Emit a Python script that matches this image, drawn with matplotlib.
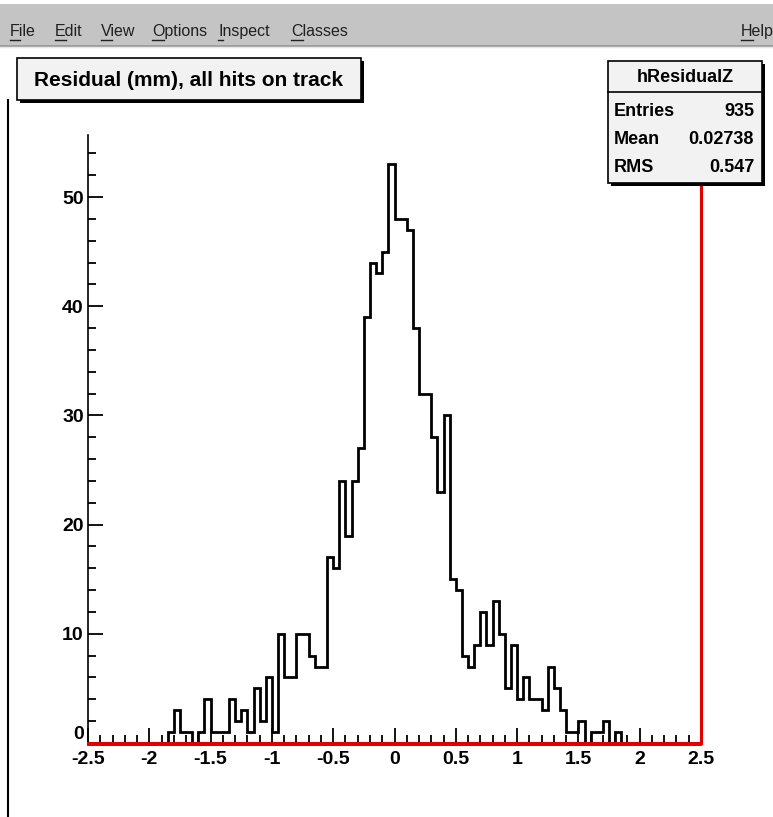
import matplotlib
matplotlib.use("Agg")
import matplotlib.pyplot as plt
from matplotlib.patches import Rectangle
from matplotlib.lines import Line2D
from matplotlib.font_manager import fontManager
from matplotlib import transforms

# ---- histogram contents: 100 bins of 0.05 mm in [-2.5, 2.5) ----
x_lo, x_hi, n_bins = -2.5, 2.5, 100
counts = ([0] * 13 +
          [1, 3, 1, 1, 0, 1, 4, 1, 1, 1, 4, 2, 3, 1, 5, 2, 6, 1, 10, 6, 6, 10, 10, 8, 7, 7,
           17, 16, 24, 19, 24, 27, 39, 44, 43, 45, 53, 48, 48, 47, 38, 32, 32, 28, 23, 30,
           15, 14, 8, 7, 9, 12, 9, 13, 10, 5, 9, 4, 6, 4, 4, 3, 7, 5, 3, 1, 1, 2, 0, 1, 1, 2, 0, 1] +
          [0] * 13)
edges = [x_lo + i * (x_hi - x_lo) / n_bins for i in range(n_bins + 1)]

title_text = "Residual (mm), all hits on track"
hist_name = "hResidualZ"
stat_labels = ["Entries", "Mean", "RMS"]
stat_values = ["935", "0.02738", "0.547"]
x_ticks = [-2.5, -2, -1.5, -1, -0.5, 0, 0.5, 1, 1.5, 2, 2.5]
x_tick_labels = ["-2.5", "-2", "-1.5", "-1", "-0.5", "0", "0.5", "1", "1.5", "2", "2.5"]
y_ticks = [0, 10, 20, 30, 40, 50]
menu_items = ["File", "Edit", "View", "Options", "Inspect", "Classes"]
menu_x = [10, 55, 101, 152, 218, 291]

W, H = 773, 817
names = {f.name for f in fontManager.ttflist}
NARROW = "Liberation Sans Narrow" if "Liberation Sans Narrow" in names else "Liberation Sans"
FAM = [NARROW, "DejaVu Sans"]

fig = plt.figure(figsize=(W / 100, H / 100), dpi=100)
fig.patch.set_facecolor("white")


def fx(x):
    return x / W


def fy(y):
    return 1 - y / H


def prect(x0, y0, x1, y1, **kw):
    r = Rectangle((fx(x0), fy(y1)), (x1 - x0) / W, (y1 - y0) / H,
                  transform=fig.transFigure, **kw)
    fig.add_artist(r)
    return r


def pline(xs, ys, **kw):
    fig.add_artist(Line2D([fx(v) for v in xs], [fy(v) for v in ys],
                          transform=fig.transFigure, **kw))


def ptext(x, y, s, **kw):
    kw.setdefault("family", FAM)
    return fig.text(fx(x), fy(y), s, **kw)


# ---- menu bar ----
prect(0, 4, W, 45, facecolor="#c4c4c4", edgecolor="none", zorder=1)
pline([0, W], [45.5, 45.5], color="#8a8a8a", lw=1.2, zorder=2)
pline([0, W], [47, 47], color="#e8e8e8", lw=1.0, zorder=2)

renderer = fig.canvas.get_renderer()
menu_fs = 11.5


def menu_entry(x, label):
    t = ptext(x, 36, label, fontsize=menu_fs, va="baseline", ha="left", color="#202020", zorder=3)
    first = ptext(x, 36, label[0], fontsize=menu_fs, va="baseline", ha="left", alpha=0)
    bb = first.get_window_extent(renderer)
    pline([x, x + bb.width], [39.5, 39.5], color="#202020", lw=1.0, zorder=3)
    return t


for lab, x in zip(menu_items, menu_x):
    menu_entry(x, lab)
menu_entry(741, "Help")

# left edge of the canvas
pline([8, 8], [100, H], color="black", lw=1.5, zorder=2)

# ---- main frame ----
ax_l, ax_r, ax_b = 88, 701, 743
y_max = 53 * 1.05
px_per_unit = 10.92
ax_t = ax_b - y_max * px_per_unit
ax = fig.add_axes([fx(ax_l), fy(ax_b), (ax_r - ax_l) / W, (ax_b - ax_t) / H])
ax.set_xlim(x_lo, x_hi)
ax.set_ylim(0, y_max)
ax.set_facecolor("none")

ax.stairs(counts, edges, color="black", lw=2.0, baseline=0, zorder=3)

ax.spines["top"].set_visible(False)
ax.spines["left"].set_color("black")
ax.spines["left"].set_linewidth(1.2)
ax.spines["right"].set_color("#e00000")
ax.spines["right"].set_linewidth(2.2)
ax.spines["bottom"].set_color("#e00000")
ax.spines["bottom"].set_linewidth(2.2)
ax.spines["bottom"].set_zorder(4)
# black axis line just below the red frame edge
ax.plot([0, 1], [0, 0], transform=transforms.offset_copy(ax.transAxes, fig=fig, y=-2.2, units="dots"),
        color="#202020", lw=1.2, clip_on=False, zorder=4)

ax.set_xticks(x_ticks)
ax.set_xticklabels(x_tick_labels)
ax.set_xticks([x_lo + 0.1 * i for i in range(51)], minor=True)
ax.set_yticks(y_ticks)
ax.set_yticks(list(range(0, 56, 2)), minor=True)
ax.tick_params(axis="x", which="major", direction="in", length=11, width=1.3, color="black",
               pad=6, labelsize=14)
ax.tick_params(axis="x", which="minor", direction="in", length=5.5, width=1.3, color="black")
ax.tick_params(axis="y", which="major", direction="in", length=11, width=1.3, color="black",
               pad=3, labelsize=14)
ax.tick_params(axis="y", which="minor", direction="in", length=5.5, width=1.3, color="black")
for lab in ax.get_xticklabels() + ax.get_yticklabels():
    lab.set_family(FAM)
    lab.set_fontweight("bold")
# the zero label sits a little above the baseline
ax.get_yticklabels()[0].set_verticalalignment("bottom")

# ---- title pave ----
tx0, ty0, tx1, ty1 = 17, 58, 361, 100
prect(tx0 + 3, ty0 + 3, tx1 + 3, ty1 + 3, facecolor="black", edgecolor="none", zorder=5)
prect(tx0, ty0, tx1, ty1, facecolor="#f2f2f2", edgecolor="black", lw=1.2, zorder=6)
ptext((tx0 + tx1) / 2, (ty0 + ty1) / 2 + 1, title_text, fontsize=15, fontweight="bold",
      ha="center", va="center", zorder=7)

# ---- statistics box ----
sx0, sy0, sx1, sy1 = 608, 61, 762, 183
prect(sx0 + 3, sy0 + 3, sx1 + 3, sy1 + 3, facecolor="black", edgecolor="none", zorder=5)
prect(sx0, sy0, sx1, sy1, facecolor="#f2f2f2", edgecolor="black", lw=1.2, zorder=6)
pline([sx0, sx1], [92, 92], color="black", lw=1.2, zorder=7)
ptext((sx0 + sx1) / 2, 77, hist_name, fontsize=13, fontweight="bold", ha="center", va="center", zorder=7)
for i, (lab, val) in enumerate(zip(stat_labels, stat_values)):
    yy = 111 + 28.5 * i
    ptext(sx0 + 6, yy, lab, fontsize=13, fontweight="bold", ha="left", va="center", zorder=7)
    ptext(sx1 - 8, yy, val, fontsize=13, fontweight="bold", ha="right", va="center", zorder=7)

fig.savefig("out.png", dpi=100, facecolor="white")
